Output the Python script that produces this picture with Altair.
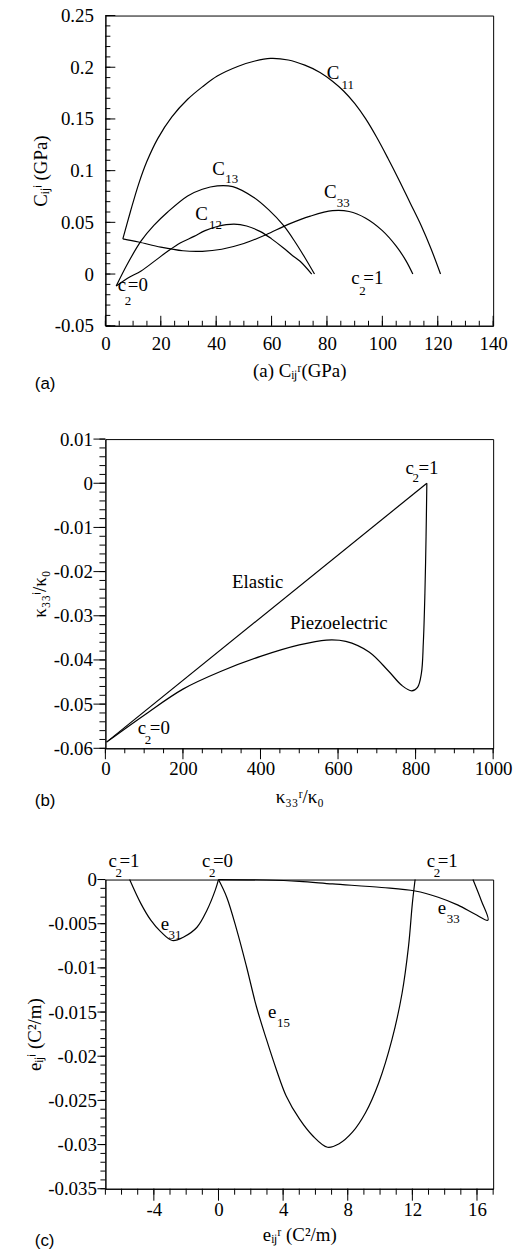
import altair as alt
import pandas as pd

SERIF = "Liberation Serif, Times New Roman, Times, serif"
SANS = "Liberation Sans, Arial, Helvetica, sans-serif"
W = 390
HA, HB, HC = 312, 311, 311
LFS = 19  # axis label / title font size

# ---------------- panel (a) data ----------------
a_x_major = [0, 20, 40, 60, 80, 100, 120, 140]
a_y_major = [-0.05, 0, 0.05, 0.1, 0.15, 0.2, 0.25]
a_x_minor = list(range(0, 141, 5))
a_y_minor = [round(-0.05 + 0.01 * i, 2) for i in range(31)]

c11_x = [6.3, 9, 12, 15, 18.9, 24, 29.7, 35, 40.4, 48, 54, 59.6, 66, 72, 77.5, 82, 86, 90, 94, 98, 102, 106, 110, 114, 117.5, 121]
c11_y = [0.034, 0.06, 0.087, 0.109, 0.131, 0.152, 0.169, 0.181, 0.1915, 0.201, 0.206, 0.2085, 0.207, 0.202, 0.195, 0.1865, 0.177, 0.165, 0.15, 0.132, 0.112, 0.091, 0.069, 0.047, 0.025, 0.0]
c33_x = [6.3, 12, 20, 28, 35, 42, 50, 58, 66, 74, 82, 88, 94, 100, 105, 108.5, 111]
c33_y = [0.034, 0.031, 0.026, 0.0225, 0.022, 0.024, 0.0295, 0.038, 0.048, 0.056, 0.0613, 0.0605, 0.054, 0.042, 0.027, 0.013, 0.0]
c13_x = [3.9, 8, 12.9, 17.5, 22.5, 29.7, 35, 40.4, 46, 53.6, 59, 64.3, 68.5, 72, 75.5]
c13_y = [-0.0116, 0.01, 0.032, 0.047, 0.06, 0.0755, 0.082, 0.0853, 0.0845, 0.074, 0.062, 0.047, 0.031, 0.016, 0.0]
c12_x = [3.9, 8, 12.9, 17.5, 22.5, 27, 32, 36, 40.4, 46.4, 51, 56, 60, 64.3, 67.5, 70.3, 74.5]
c12_y = [-0.0116, -0.004, 0.003, 0.012, 0.022, 0.03, 0.0364, 0.042, 0.046, 0.0482, 0.0465, 0.041, 0.034, 0.0252, 0.018, 0.0124, 0.0]

a_lab_x = [79.9, 38.6, 32.4, 78.9, 4.5, 88.8]
a_lab_y = [0.1883, 0.0955, 0.0524, 0.0732, -0.0164, -0.01]
a_lab_main = ["C", "C", "C", "C", "c", "c"]
a_lab_sub = ["11", "13", "12", "33", "2", "2"]
a_lab_tail = ["", "", "", "", "=0", "=1"]
a_sub_dx = [15, 13, 14, 13, 7, 8]
a_sub_dy = [10, 8, 9, 9, 14, 11]
a_tail_dx = [0, 0, 0, 0, 10, 12]

# ---------------- panel (b) data ----------------
b_x_major = [0, 200, 400, 600, 800, 1000]
b_y_major = [0.01, 0, -0.01, -0.02, -0.03, -0.04, -0.05, -0.06]
b_x_minor = list(range(0, 1001, 50))
b_y_minor = [round(-0.06 + 0.002 * i, 3) for i in range(36)]

elastic_x = [3, 829]
elastic_y = [-0.0586, 0.0]
piezo_x = [3, 100, 200, 300, 400, 500, 570, 620, 680, 730, 765, 790, 805, 815, 820, 824, 827, 829]
piezo_y = [-0.0586, -0.0525, -0.0466, -0.0425, -0.0392, -0.0366, -0.0355, -0.0358, -0.0382, -0.0425, -0.0458, -0.047, -0.0462, -0.043, -0.036, -0.025, -0.012, 0.0]

b_word_x = [393, 602]
b_word_y = [-0.0223, -0.0316]
b_words = ["Elastic", "Piezoelectric"]
b_lab_x = [774, 83.7]
b_lab_y = [0.0021, -0.0568]
b_lab_main = ["c", "c"]
b_lab_sub = ["2", "2"]
b_lab_tail = ["=1", "=0"]
b_sub_dx = [7, 7]
b_sub_dy = [8, 10]
b_tail_dx = [13, 12]

# ---------------- panel (c) data ----------------
c_x_major = [-4, 0, 4, 8, 12, 16]
c_y_major = [0, -0.005, -0.01, -0.015, -0.02, -0.025, -0.03, -0.035]
c_x_minor = list(range(-7, 18))
c_y_minor = [round(-0.035 + 0.001 * i, 3) for i in range(36)]

e31_x = [-5.5, -4.81, -4.19, -3.58, -2.86, -2.15, -1.33, -0.72, -0.2, 0]
e31_y = [0, -0.0027, -0.0046, -0.0059, -0.0069, -0.0065, -0.0054, -0.0035, -0.0012, 0]
e15_x = [0, 0.51, 1.13, 1.74, 2.35, 2.97, 3.58, 4.19, 5.01, 5.83, 6.75, 7.47, 8.29, 9.1, 9.92, 10.74, 11.36, 11.76, 12.0, 12.17]
e15_y = [0, -0.002, -0.0057, -0.0099, -0.0144, -0.0181, -0.0215, -0.0245, -0.0271, -0.029, -0.0303, -0.0299, -0.0286, -0.0264, -0.023, -0.0181, -0.0129, -0.0076, -0.0027, 0]
e33_x = [0, 2.97, 5, 7.06, 10.1, 12.17, 13.6, 14.83, 15.86, 16.68, 16.27, 15.75]
e33_y = [0, -0.00005, -0.0002, -0.0005, -0.0009, -0.0013, -0.002, -0.0029, -0.0039, -0.0046, -0.0024, 0]

c_lab_x = [-6.81, -1.02, 12.89, -3.58, 3.07, 13.57]
c_lab_y = [0.0014, 0.0014, 0.0014, -0.0057, -0.0157, -0.0039]
c_lab_main = ["c", "c", "c", "e", "e", "e"]
c_lab_sub = ["2", "2", "2", "31", "15", "33"]
c_lab_tail = ["=1", "=0", "=1", "", "", ""]
c_sub_dx = [7, 7, 7, 8, 9, 9]
c_sub_dy = [10, 10, 10, 9, 9, 9]
c_tail_dx = [11, 11, 11, 0, 0, 0]


def curve_frame(names, xs_list, ys_list):
    rows = []
    for name, xs, ys in zip(names, xs_list, ys_list):
        for i, (x, y) in enumerate(zip(xs, ys)):
            rows.append({"curve": name, "i": i, "x": x, "y": y})
    return pd.DataFrame(rows)


def x_axis(values, title, lpad, tpad):
    return alt.Axis(values=values, title=title, ticks=False, tickSize=0, grid=False,
                    labelExpr="'' + datum.value", labelPadding=lpad, titlePadding=tpad,
                    labelFont=SERIF, labelFontSize=LFS, labelColor="black",
                    titleFont=SERIF, titleFontSize=LFS, titleFontWeight="normal", titleColor="black",
                    domainColor="black", domainWidth=1, labelFlush=False, labelOverlap=False)


def y_axis(values, title, lpad, tpad):
    return alt.Axis(values=values, title=title, ticks=False, tickSize=0, grid=False,
                    labelExpr="'' + datum.value", labelPadding=lpad, titlePadding=tpad,
                    labelFont=SERIF, labelFontSize=LFS, labelColor="black", labelBaseline="middle",
                    titleFont=SERIF, titleFontSize=LFS, titleFontWeight="normal", titleColor="black",
                    domainColor="black", domainWidth=1, labelFlush=False, labelOverlap=False)


class Panel:
    def __init__(self, xs, ys, xax, yax):
        self.xs, self.ys, self.xax, self.yax = xs, ys, xax, yax

    def X(self, field):
        return alt.X(field, scale=self.xs, axis=self.xax)

    def Y(self, field):
        return alt.Y(field, scale=self.ys, axis=self.yax)


def line_layer(df, p):
    return alt.Chart(df).mark_line(color="black", strokeWidth=1.2, interpolate="catmull-rom").encode(
        x=p.X("x:Q"), y=p.Y("y:Q"), detail="curve:N", order="i:Q")


def tick_layers(p, H, xmaj, xmin, ymaj, ymin, lmaj, lmin, inward, ylmaj=None, ylmin=None):
    sign = -1 if inward else 1
    ylmaj = lmaj if ylmaj is None else ylmaj
    ylmin = lmin if ylmin is None else ylmin
    out = []
    for vals, L in ((xmaj, lmaj), (xmin, lmin)):
        out.append(alt.Chart(pd.DataFrame({"v": vals})).mark_rule(color="black", strokeWidth=1).encode(
            x=p.X("v:Q"), y=alt.value(H), y2=alt.value(H + sign * L)))
    for vals, L in ((ymaj, ylmaj), (ymin, ylmin)):
        out.append(alt.Chart(pd.DataFrame({"v": vals})).mark_rule(color="black", strokeWidth=1).encode(
            y=p.Y("v:Q"), x=alt.value(0), x2=alt.value(-sign * L)))
    return out


def label_layers(p, lx, ly, mains, subs, tails, sdx, sdy, tdx, size=19, subsize=13):
    out = []
    for i in range(len(lx)):
        d = pd.DataFrame({"x": [lx[i]], "y": [ly[i]], "m": [mains[i]], "s": [subs[i]], "t": [tails[i]]})
        enc = dict(x=p.X("x:Q"), y=p.Y("y:Q"))
        base = alt.Chart(d)
        out.append(base.mark_text(font=SERIF, fontSize=size, align="left", baseline="alphabetic",
                                  color="black").encode(text="m:N", **enc))
        if subs[i]:
            out.append(base.mark_text(font=SERIF, fontSize=subsize, align="left", baseline="alphabetic",
                                      color="black", dx=sdx[i], dy=sdy[i]).encode(text="s:N", **enc))
        if tails[i]:
            out.append(base.mark_text(font=SERIF, fontSize=size, align="left", baseline="alphabetic",
                                      color="black", dx=tdx[i]).encode(text="t:N", **enc))
    return out


def panel_letter(letter, H, dy):
    return alt.Chart(pd.DataFrame({"t": [letter]})).mark_text(
        font=SANS, fontSize=17, align="left", baseline="alphabetic", color="black").encode(
        x=alt.value(-71), y=alt.value(H + dy), text="t:N")


def spacer(y1, y2):
    # invisible rule that fixes the panel's outer extent (layout spacing only)
    return alt.Chart(pd.DataFrame({"k": [0]})).mark_rule(opacity=0, strokeOpacity=0).encode(
        x=alt.value(0), y=alt.value(y1), y2=alt.value(y2))


# ---------------- build panel (a) ----------------
p_a = Panel(alt.Scale(domain=[0, 140], nice=False, zero=False),
            alt.Scale(domain=[-0.05, 0.25], nice=False, zero=False),
            x_axis(a_x_major, "(a) Cᵢⱼʳ(GPa)", 9, 8),
            y_axis(a_y_major, "Cᵢⱼⁱ (GPa)", 12, 4))
df_a = curve_frame(["C11", "C33", "C13", "C12"], [c11_x, c33_x, c13_x, c12_x], [c11_y, c33_y, c13_y, c12_y])
pa = alt.layer(
    line_layer(df_a, p_a),
    *tick_layers(p_a, HA, a_x_major, a_x_minor, a_y_major, a_y_minor, 10, 5, True),
    *label_layers(p_a, a_lab_x, a_lab_y, a_lab_main, a_lab_sub, a_lab_tail, a_sub_dx, a_sub_dy, a_tail_dx),
    panel_letter("(a)", HA, 64),
    spacer(HA, HA + 70),
).properties(width=W, height=HA)

# ---------------- build panel (b) ----------------
p_b = Panel(alt.Scale(domain=[0, 1000], nice=False, zero=False),
            alt.Scale(domain=[-0.06, 0.01], nice=False, zero=False),
            x_axis(b_x_major, "κ₃₃ʳ/κ₀", 11, 10),
            y_axis(b_y_major, "κ₃₃ⁱ/κ₀", 13, 4))
df_b = curve_frame(["Elastic", "Piezo"], [elastic_x, piezo_x], [elastic_y, piezo_y])
words_b = pd.DataFrame({"x": b_word_x, "y": b_word_y, "t": b_words})
pb = alt.layer(
    line_layer(df_b, p_b),
    *tick_layers(p_b, HB, b_x_major, b_x_minor, b_y_major, b_y_minor, 11, 5, False, 12, 6),
    alt.Chart(words_b).mark_text(font=SERIF, fontSize=19, align="center", baseline="middle", color="black").encode(
        x=p_b.X("x:Q"), y=p_b.Y("y:Q"), text="t:N"),
    *label_layers(p_b, b_lab_x, b_lab_y, b_lab_main, b_lab_sub, b_lab_tail, b_sub_dx, b_sub_dy, b_tail_dx),
    panel_letter("(b)", HB, 58),
    spacer(-15, 0),
    spacer(HB, HB + 70),
).properties(width=W, height=HB)

# ---------------- build panel (c) ----------------
p_c = Panel(alt.Scale(domain=[-7, 17], nice=False, zero=False),
            alt.Scale(domain=[-0.035, 0], nice=False, zero=False),
            x_axis(c_x_major, "eᵢⱼʳ (C²/m)", 12, 6),
            y_axis(c_y_major, "eᵢⱼⁱ (C²/m)", 9, 3))
df_c = curve_frame(["e31", "e15", "e33"], [e31_x, e15_x, e33_x], [e31_y, e15_y, e33_y])
pc = alt.layer(
    line_layer(df_c, p_c),
    *tick_layers(p_c, HC, c_x_major, c_x_minor, c_y_major, c_y_minor, 12, 6, False, 8, 5),
    *label_layers(p_c, c_lab_x, c_lab_y, c_lab_main, c_lab_sub, c_lab_tail, c_sub_dx, c_sub_dy, c_tail_dx),
    panel_letter("(c)", HC, 58),
    spacer(-33, 0),
).properties(width=W, height=HC)

chart = alt.vconcat(pa, pb, pc, spacing=27).properties(
    padding={"left": 25, "top": 2, "right": 5, "bottom": 0},
).configure(background="white").configure_view(stroke="black", strokeWidth=1)

chart.save("out.html", embed_options={"renderer": "svg", "actions": False})
